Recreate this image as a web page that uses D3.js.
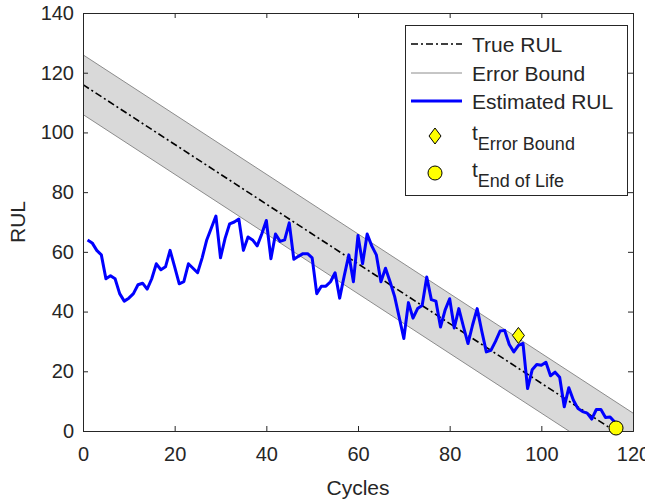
<!DOCTYPE html>
<html lang="en">
<head>
<meta charset="UTF-8" />
<title>RUL estimate</title>
<style>
  body { margin: 0; background: #fff; }
  svg text { font-family: "Liberation Sans", Arial, sans-serif; fill: #262626; }
</style>
</head>
<body>
<div id="stage"></div>
<script src="https://d3js.org/d3.v7.min.js"></script>
<script>
// estimated RUL per cycle (cycles 1..116)
const estimatedRUL = [
  64, 63, 60.5, 59, 51, 52, 51, 46, 43.5, 44.5,
  46, 49, 49.5, 47.5, 51, 56, 54, 55, 60.5, 55,
  49.3, 50, 56, 54.5, 53, 58, 64, 68, 72, 58,
  64.5, 69.4, 70, 71, 60.5, 65, 64, 62, 66, 70.5,
  57.7, 66, 63.5, 64, 69.7, 57.5, 58.5, 59.4, 59.4, 58,
  46, 48.5, 48.5, 50, 53, 44.5, 52, 59, 50, 65.5,
  56, 66, 62, 59, 50, 54.5, 50, 45, 38, 31,
  43, 37.8, 41, 42, 51.6, 44, 43.5, 34.8, 40.5, 44.3,
  34.5, 41, 35, 29.3, 35.5, 41, 33.5, 26.5, 27, 30,
  33.5, 33.7, 29, 26.5, 28.7, 29.3, 14.2, 20.5, 22.3, 22,
  23, 18.5, 19.7, 18, 8.1, 14.5, 10.3, 7.5, 6.5, 6,
  4, 7.2, 7.2, 4.5, 4.7, 3
];
const cycles = estimatedRUL.map((d, i) => i + 1);

const trueRULStart = 116;   // true RUL = 116 - cycle
const errorBound = 10;
const errorBoundPoint = [95, 32];
const endOfLifePoint = [116.3, 1];

const xTicks = [0, 20, 40, 60, 80, 100, 120];
const yTicks = [0, 20, 40, 60, 80, 100, 120, 140];

const legendItems = ['True RUL', 'Error Bound', 'Estimated RUL', 'Error Bound', 'End of Life'];

const width = 645, height = 502;
const margin = { left: 83, right: 12, top: 13, bottom: 71 };

const svg = d3.select('#stage').append('svg')
  .attr('width', width)
  .attr('height', height);

const x = d3.scaleLinear().domain([0, 120]).range([margin.left, width - margin.right]);
const y = d3.scaleLinear().domain([0, 140]).range([height - margin.bottom, margin.top]);

svg.append('clipPath').attr('id', 'plot-clip')
  .append('rect')
  .attr('x', x(0)).attr('y', y(140))
  .attr('width', x(120) - x(0)).attr('height', y(0) - y(140));

// error bound band
const band = [0, 120];
const bandPoly = band.map(c => [c, trueRULStart - c + errorBound])
  .concat(band.slice().reverse().map(c => [c, trueRULStart - c - errorBound]));
const plot = svg.append('g').attr('clip-path', 'url(#plot-clip)');
plot.append('path')
  .attr('d', d3.line().x(d => x(d[0])).y(d => y(d[1]))(bandPoly) + 'Z')
  .attr('fill', '#d9d9d9');
[errorBound, -errorBound].forEach(off => {
  plot.append('line')
    .attr('x1', x(0)).attr('y1', y(trueRULStart + off))
    .attr('x2', x(120)).attr('y2', y(trueRULStart + off - 120))
    .attr('stroke', '#8c8c8c').attr('stroke-width', 1);
});

// true RUL
plot.append('line')
  .attr('x1', x(0)).attr('y1', y(trueRULStart))
  .attr('x2', x(trueRULStart)).attr('y2', y(0))
  .attr('stroke', '#000').attr('stroke-width', 1.6)
  .attr('stroke-dasharray', '7,3,2,3');

// axes
const xAxis = d3.axisBottom(x).tickValues(xTicks).tickSize(-5).tickPadding(16);
const yAxis = d3.axisLeft(y).tickValues(yTicks).tickSize(-5).tickPadding(9);
const gx = svg.append('g').attr('transform', `translate(0,${y(0)})`).call(xAxis);
const gy = svg.append('g').attr('transform', `translate(${x(0)},0)`).call(yAxis);
svg.append('g').attr('transform', `translate(0,${y(140)})`)
  .call(d3.axisTop(x).tickValues(xTicks).tickSize(-5).tickFormat(''));
svg.append('g').attr('transform', `translate(${x(120)},0)`)
  .call(d3.axisRight(y).tickValues(yTicks).tickSize(-5).tickFormat(''));
svg.selectAll('.domain').attr('stroke', '#262626');
svg.selectAll('.tick line').attr('stroke', '#262626');
[gx, gy].forEach(g => g.selectAll('text')
  .style('font-size', '20px')
  .style('font-family', '"Liberation Sans", Arial, sans-serif')
  .attr('fill', '#262626'));

// estimated RUL
svg.append('path')
  .datum(estimatedRUL)
  .attr('d', d3.line().x((d, i) => x(cycles[i])).y(d => y(d)))
  .attr('fill', 'none')
  .attr('stroke', '#0000ff')
  .attr('stroke-width', 3)
  .attr('stroke-linejoin', 'round');

// markers
const diamond = (cx, cy) => `M${cx},${cy - 8}L${cx + 6},${cy}L${cx},${cy + 8}L${cx - 6},${cy}Z`;
svg.append('path')
  .attr('d', diamond(x(errorBoundPoint[0]), y(errorBoundPoint[1])))
  .attr('fill', '#ffff00').attr('stroke', '#000').attr('stroke-width', 1);
svg.append('circle')
  .attr('cx', x(endOfLifePoint[0])).attr('cy', y(endOfLifePoint[1])).attr('r', 7)
  .attr('fill', '#ffff00').attr('stroke', '#000').attr('stroke-width', 1);

// axis labels
svg.append('text')
  .attr('x', (x(0) + x(120)) / 2).attr('y', 495)
  .attr('text-anchor', 'middle')
  .style('font-size', '21px')
  .text('Cycles');
svg.append('text')
  .attr('transform', `translate(25,${(y(0) + y(140)) / 2}) rotate(-90)`)
  .attr('text-anchor', 'middle')
  .style('font-size', '21px')
  .text('RUL');

// legend
const lg = svg.append('g');
lg.append('rect')
  .attr('x', 405.5).attr('y', 25.5).attr('width', 222).attr('height', 170)
  .attr('fill', '#fff').attr('stroke', '#262626').attr('stroke-width', 1);
const rowY = [44, 73, 101, 136, 173];
const sx1 = 411, sx2 = 462, tx = 472;
lg.append('line').attr('x1', sx1).attr('x2', sx2).attr('y1', rowY[0]).attr('y2', rowY[0])
  .attr('stroke', '#000').attr('stroke-width', 1.6).attr('stroke-dasharray', '7,3,2,3');
lg.append('line').attr('x1', sx1).attr('x2', sx2).attr('y1', rowY[1]).attr('y2', rowY[1])
  .attr('stroke', '#8c8c8c').attr('stroke-width', 1);
lg.append('line').attr('x1', sx1).attr('x2', sx2).attr('y1', rowY[2]).attr('y2', rowY[2])
  .attr('stroke', '#0000ff').attr('stroke-width', 3);
lg.append('path').attr('d', diamond(435, rowY[3]))
  .attr('fill', '#ffff00').attr('stroke', '#000').attr('stroke-width', 1);
lg.append('circle').attr('cx', 435).attr('cy', rowY[4]).attr('r', 7)
  .attr('fill', '#ffff00').attr('stroke', '#000').attr('stroke-width', 1);
legendItems.forEach((label, i) => {
  const t = lg.append('text').attr('x', tx).attr('y', rowY[i] + 7.5).style('font-size', '21px');
  if (i < 3) {
    t.text(label);
  } else {
    t.attr('y', rowY[i] + 4);
    t.append('tspan').text('t');
    t.append('tspan').attr('dy', 10).style('font-size', '18px').text(label);
  }
});
</script>
</body>
</html>
